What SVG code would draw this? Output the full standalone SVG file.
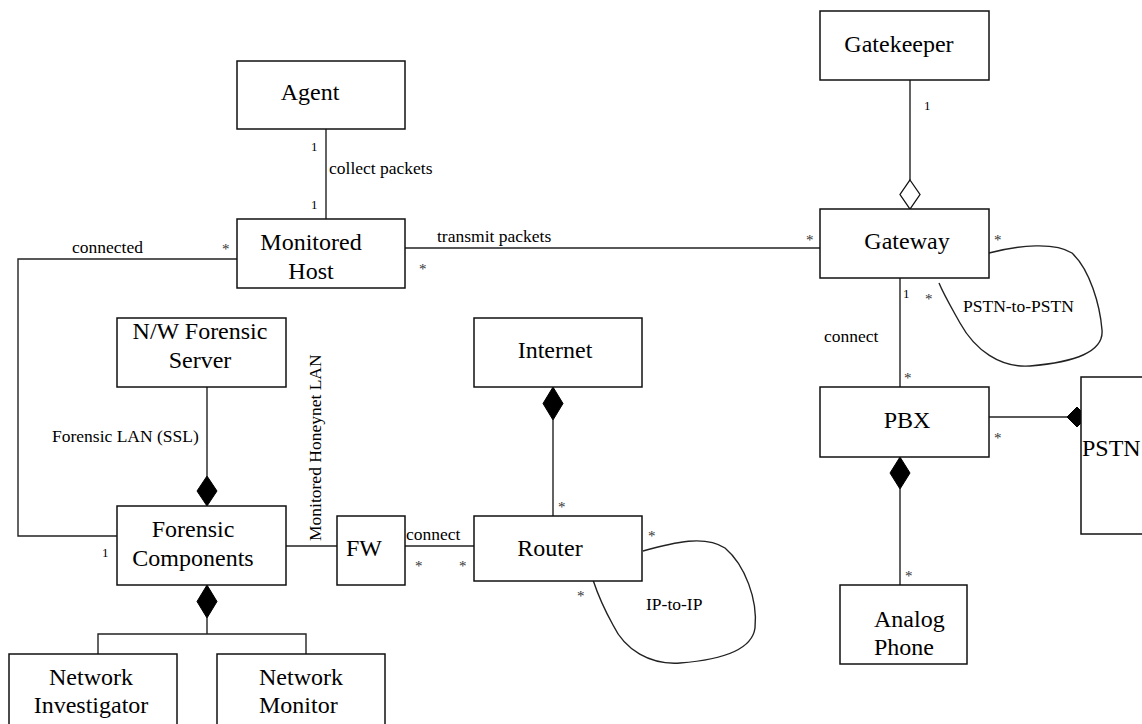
<svg xmlns="http://www.w3.org/2000/svg" width="1142" height="724" viewBox="0 0 1142 724">
<style>
.box{fill:#fff;stroke:#111;stroke-width:1.5}
.ln{fill:none;stroke:#222;stroke-width:1.4}
.dia{fill:#000;stroke:#000;stroke-width:1}
.hol{fill:#fff;stroke:#111;stroke-width:1.3}
.t{font-family:"Liberation Serif","Times New Roman",serif;font-size:24px;fill:#000}
.c{text-anchor:middle}
.s{font-family:"Liberation Serif","Times New Roman",serif;font-size:17.5px;fill:#000}
.m{font-family:"Liberation Serif","Times New Roman",serif;font-size:13px;fill:#000}
.a{font-family:"Liberation Serif","Times New Roman",serif;font-size:15px;fill:#333}
</style>
<rect width="1142" height="724" fill="#fff"/>
<g id="connectors">
<line class="ln" x1="326" y1="129" x2="326" y2="219"/>
<polyline class="ln" points="237,259 18,259 18,536 117,536"/>
<line class="ln" x1="405" y1="248" x2="820" y2="248"/>
<line class="ln" x1="910" y1="80" x2="910" y2="180"/>
<polygon class="hol" points="910,180 920,194.5 910,209 900,194.5"/>
<line class="ln" x1="900" y1="278" x2="900" y2="387"/>
<polygon class="dia" points="900,457 910,473 900,489 890,473"/>
<line class="ln" x1="900" y1="489" x2="900" y2="585"/>
<line class="ln" x1="989" y1="417" x2="1067" y2="417"/>
<polygon class="dia" points="1067,417 1077,407 1087,417 1077,427"/>
<line class="ln" x1="207" y1="387" x2="207" y2="476"/>
<polygon class="dia" points="207,476 217,491 207,506 197,491"/>
<polygon class="dia" points="207,585 217,601.5 207,618 197,601.5"/>
<polyline class="ln" points="98,654 98,634 306,634 306,654"/>
<line class="ln" x1="207" y1="618" x2="207" y2="634"/>
<line class="ln" x1="286" y1="546" x2="337" y2="546"/>
<line class="ln" x1="402" y1="546" x2="474" y2="546"/>
<polygon class="dia" points="553,387 563,403.5 553,420 543,403.5"/>
<line class="ln" x1="553" y1="420" x2="553" y2="516"/>
<path class="ln" d="M643,551 C675,542 705,535 725,548 C745,565 758,600 755,628 C752,650 720,660 680,663 C650,665 625,650 613,625 C603,607 597,592 593,580"/>
<path class="ln" d="M989,253 C1020,245 1055,242 1072,253 C1090,270 1100,305 1102,330 C1104,352 1075,362 1030,366 C1000,368 975,350 960,323 C950,305 944,295 939,283"/>
<text class="s" x="329" y="174">collect packets</text>
<text class="m" x="311" y="151">1</text>
<text class="m" x="311" y="209">1</text>
<text class="s" x="72" y="253">connected</text>
<text class="a" x="222" y="254">*</text>
<text class="a" x="419" y="274">*</text>
<text class="s" x="437" y="242">transmit packets</text>
<text class="a" x="806" y="245">*</text>
<text class="m" x="924" y="110">1</text>
<text class="a" x="994" y="245">*</text>
<text class="m" x="903" y="298">1</text>
<text class="a" x="925" y="304">*</text>
<text class="s" x="963" y="312">PSTN-to-PSTN</text>
<text class="s" x="824" y="342">connect</text>
<text class="a" x="904" y="383">*</text>
<text class="a" x="994" y="443">*</text>
<text class="a" x="905" y="581">*</text>
<text class="s" x="52" y="442">Forensic LAN (SSL)</text>
<text class="m" x="102" y="557">1</text>
<text class="s" transform="translate(321,541) rotate(-90)">Monitored Honeynet LAN</text>
<text class="s" x="406" y="540">connect</text>
<text class="a" x="415" y="571">*</text>
<text class="a" x="459" y="571">*</text>
<text class="a" x="558" y="512">*</text>
<text class="a" x="648" y="541">*</text>
<text class="a" x="577" y="601">*</text>
<text class="s" x="646" y="610">IP-to-IP</text>
</g>
<g id="agent"><rect class="box" x="237" y="61" width="168" height="68"/><text class="t c" x="310" y="100">Agent</text></g>
<g id="monitored-host"><rect class="box" x="237" y="219" width="168" height="69"/><text class="t c" x="311" y="250">Monitored</text><text class="t c" x="311" y="279">Host</text></g>
<g id="gatekeeper"><rect class="box" x="820" y="11" width="169" height="69"/><text class="t c" x="899" y="52">Gatekeeper</text></g>
<g id="gateway"><rect class="box" x="820" y="209" width="169" height="69"/><text class="t c" x="907" y="249">Gateway</text></g>
<g id="pbx"><rect class="box" x="820" y="387" width="169" height="70"/><text class="t c" x="907" y="428">PBX</text></g>
<g id="pstn"><rect class="box" x="1081" y="377" width="80" height="157"/><text class="t" x="1082" y="456">PSTN</text></g>
<g id="analog-phone"><rect class="box" x="840" y="585" width="127" height="79"/><text class="t" x="874" y="627">Analog</text><text class="t" x="874" y="655">Phone</text></g>
<g id="nw-forensic-server"><rect class="box" x="117" y="318" width="169" height="69"/><text class="t c" x="200" y="339">N/W Forensic</text><text class="t c" x="200" y="368">Server</text></g>
<g id="forensic-components"><rect class="box" x="117" y="506" width="169" height="79"/><text class="t c" x="193" y="537">Forensic</text><text class="t c" x="193" y="566">Components</text></g>
<g id="fw"><rect class="box" x="337" y="516" width="68" height="69"/><text class="t c" x="364" y="556">FW</text></g>
<g id="internet"><rect class="box" x="474" y="318" width="168" height="69"/><text class="t c" x="555" y="358">Internet</text></g>
<g id="router"><rect class="box" x="474" y="516" width="168" height="65"/><text class="t c" x="550" y="556">Router</text></g>
<g id="network-investigator"><rect class="box" x="9" y="654" width="168" height="80"/><text class="t c" x="91" y="685">Network</text><text class="t c" x="91" y="713">Investigator</text></g>
<g id="network-monitor"><rect class="box" x="217" y="654" width="168" height="80"/><text class="t" x="259" y="685">Network</text><text class="t" x="259" y="713">Monitor</text></g>
</svg>
